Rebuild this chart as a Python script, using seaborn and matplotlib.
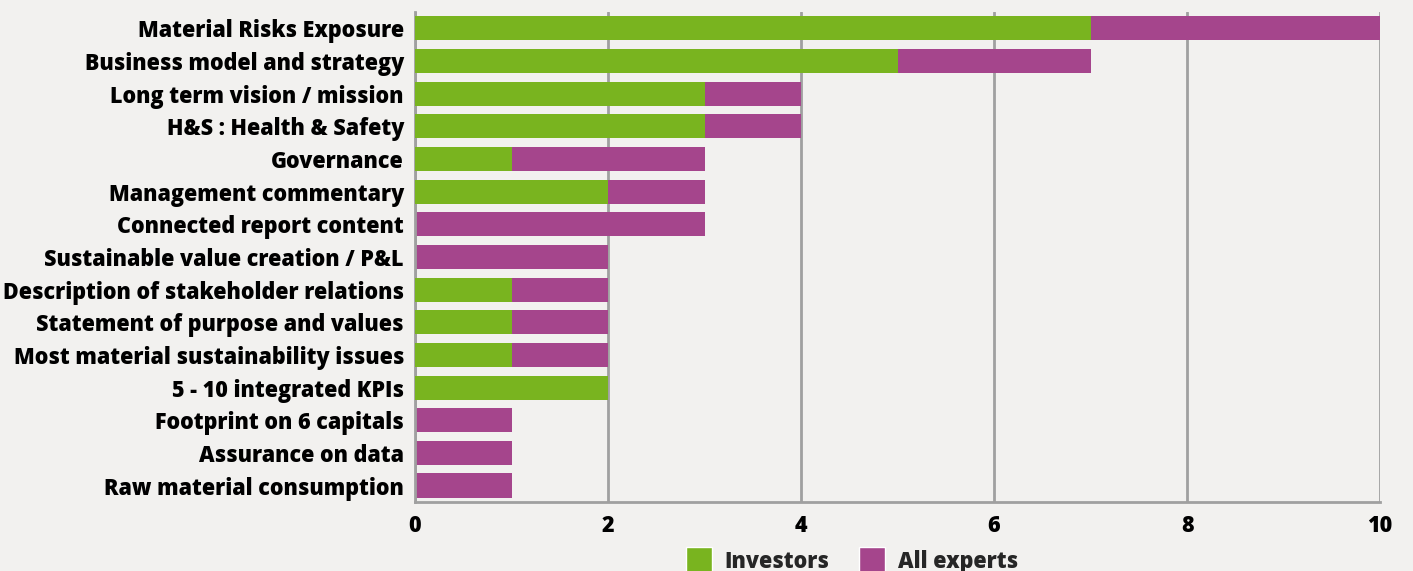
import matplotlib
matplotlib.use("Agg")
import matplotlib.pyplot as plt
from matplotlib.patches import Patch
import seaborn as sns
import pandas as pd

topics = [
    "Material Risks Exposure",
    "Business model and strategy",
    "Long term vision / mission",
    "H&S : Health & Safety",
    "Governance",
    "Management commentary",
    "Connected report content",
    "Sustainable value creation / P&L",
    "Description of stakeholder relations",
    "Statement of purpose and values",
    "Most material sustainability issues",
    "5 - 10 integrated KPIs",
    "Footprint on 6 capitals",
    "Assurance on data",
    "Raw material consumption",
]
investors = [7, 5, 3, 3, 1, 2, 0, 0, 1, 1, 1, 2, 0, 0, 0]
all_experts = [3, 2, 1, 1, 2, 1, 3, 2, 1, 1, 1, 0, 1, 1, 1]
x_ticks = [0, 2, 4, 6, 8, 10]

GREEN = "#79b41f"
PURPLE = "#a5458c"
BG = "#f2f1ef"
GRID = "#a0a0a0"
FONT = ["Open Sans", "DejaVu Sans"]

df = pd.DataFrame({"topic": topics, "investors": investors, "experts": all_experts})
df["total"] = df["investors"] + df["experts"]

sns.set_theme(style="white")
plt.rcParams["font.family"] = FONT

fig = plt.figure(figsize=(14.13, 5.71), dpi=100, facecolor=BG)
ax = fig.add_axes([0.2937, 0.121, 0.683, 0.858], facecolor=BG)

sns.barplot(data=df, y="topic", x="total", color=PURPLE, orient="h",
            width=0.74, saturation=1, linewidth=0, ax=ax, zorder=2)
sns.barplot(data=df, y="topic", x="investors", color=GREEN, orient="h",
            width=0.74, saturation=1, linewidth=0, ax=ax, zorder=3)

ax.set_xlim(0, 10)
ax.set_ylim(len(topics) - 0.5, -0.5)
ax.set_xticks(x_ticks)
ax.set_xticklabels([str(t) for t in x_ticks])
ax.set_xlabel("")
ax.set_ylabel("")

ax.xaxis.grid(True, color=GRID, linewidth=2, zorder=1)
ax.set_axisbelow(True)
for s in ["top", "right"]:
    ax.spines[s].set_visible(False)
for s in ["left", "bottom"]:
    ax.spines[s].set_color(GRID)
    ax.spines[s].set_linewidth(2)

ax.tick_params(axis="x", length=6, width=2, color=GRID, pad=3)
ax.tick_params(axis="y", length=0, pad=8)
# small ticks between categories on the value axis
ax.set_yticks([i + 0.5 for i in range(-1, len(topics))], minor=True)
ax.tick_params(axis="y", which="minor", length=5, width=2, color=GRID)
for lbl in ax.get_xticklabels() + ax.get_yticklabels():
    lbl.set_fontweight(800)
    lbl.set_fontsize(15.5)
    lbl.set_color("#000000")

handles = [Patch(facecolor=GREEN, label="Investors"),
           Patch(facecolor=PURPLE, label="All experts")]
fig.legend(handles=handles, loc="center", bbox_to_anchor=(0.603, 0.018),
           ncol=2, frameon=False, prop={"family": FONT, "weight": 800, "size": 15.5},
           handlelength=1.2, handleheight=1.6, columnspacing=1.4, handletextpad=0.6)

fig.savefig("out.png", dpi=100, facecolor=BG)
